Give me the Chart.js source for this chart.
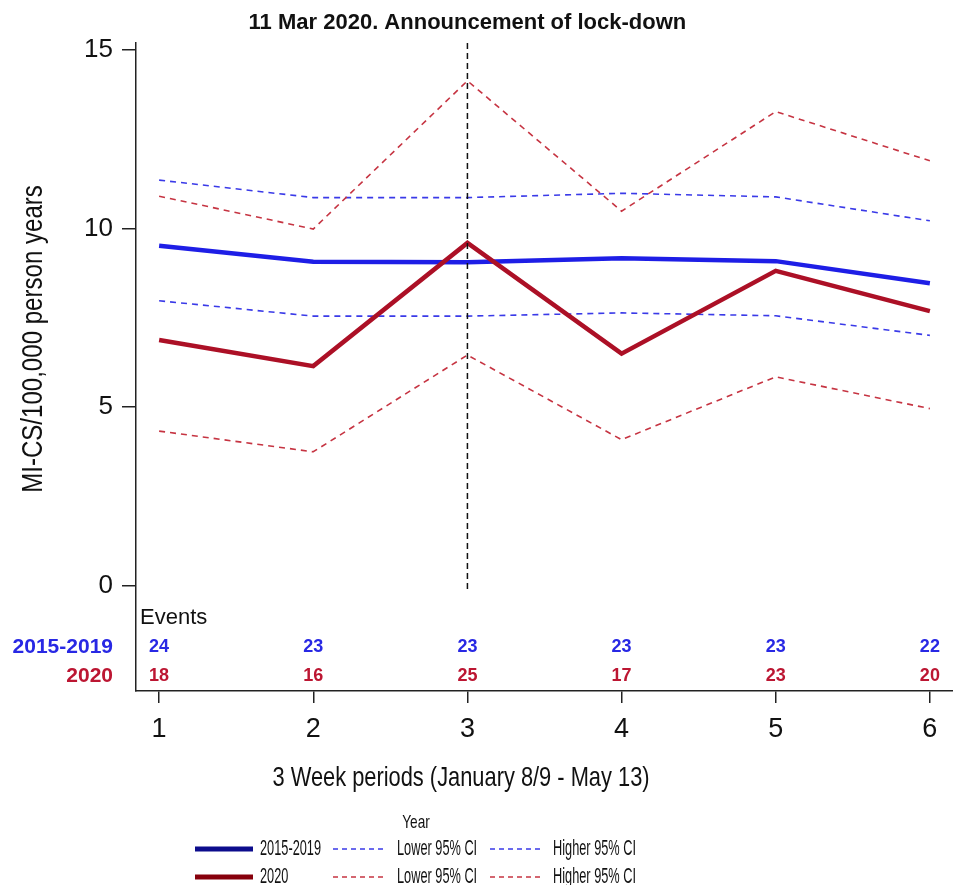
<!DOCTYPE html>
<html>
<head>
<meta charset="utf-8">
<script src="https://cdn.jsdelivr.net/npm/chart.js@4.4.0/dist/chart.umd.min.js"></script>
<style>
  html, body { margin: 0; padding: 0; background: #fff; }
  canvas { display: block; }
</style>
</head>
<body>
<canvas id="line-chart" width="953" height="885"></canvas>
<script>
// 3 week periods, Jan 8/9 - May 13
const periods = [1, 2, 3, 4, 5, 6];
const rateBase = [9.52, 9.07, 9.06, 9.17, 9.09, 8.47];
const lowerBase = [7.98, 7.55, 7.55, 7.64, 7.56, 7.01];
const upperBase = [11.36, 10.87, 10.87, 10.99, 10.89, 10.22];
const rate2020 = [6.88, 6.15, 9.60, 6.50, 8.82, 7.69];
const lower2020 = [4.33, 3.75, 6.46, 4.09, 5.85, 4.96];
const upper2020 = [10.91, 9.99, 14.14, 10.49, 13.28, 11.90];
const eventsBase = [24, 23, 23, 23, 23, 22];
const events2020 = [18, 16, 25, 17, 23, 20];
const yTicks = [0, 5, 10, 15];
const lockdownPeriod = 3;

const FONT = 'Arial, "Liberation Sans", sans-serif';
const blue = 'rgb(30,30,230)';
const blueDash = 'rgb(58,58,232)';
const red = 'rgb(172,16,38)';
const redDash = 'rgb(198,52,66)';
const legendBlue = 'rgb(12,12,140)';
const legendRed = 'rgb(135,0,12)';

const toPoints = arr => periods.map((p, i) => ({x: p, y: arr[i]}));

// draw text squeezed horizontally (the original uses a narrow font)
function narrowText(ctx, text, x, y, sx, align) {
    ctx.save();
    ctx.translate(x, y);
    ctx.scale(sx, 1);
    ctx.textAlign = align;
    ctx.fillText(text, 0, 0);
    ctx.restore();
}

const extras = {
    id: 'extras',
    afterDatasetsDraw(chart) {
        const ctx = chart.ctx;
        const xs = chart.scales.x;
        const ys = chart.scales.y;
        const area = chart.chartArea;
        const lx = xs.getPixelForValue(lockdownPeriod);

        // lock-down line
        ctx.save();
        ctx.strokeStyle = '#111';
        ctx.lineWidth = 1.5;
        ctx.setLineDash([6, 4]);
        ctx.beginPath();
        ctx.moveTo(lx, area.top);
        ctx.lineTo(lx, ys.getPixelForValue(-0.2));
        ctx.stroke();
        ctx.restore();

        ctx.save();
        ctx.textBaseline = 'middle';
        ctx.fillStyle = '#111';
        ctx.font = 'bold 22px ' + FONT;
        ctx.textAlign = 'center';
        ctx.fillText('11 Mar 2020. Announcement of lock-down', lx, 23);

        // events table
        ctx.font = '22px ' + FONT;
        ctx.textAlign = 'left';
        ctx.fillText('Events', area.left + 4, area.bottom - 73);
        ctx.font = 'bold 21px ' + FONT;
        ctx.textAlign = 'right';
        ctx.fillStyle = 'rgb(40,40,228)';
        ctx.fillText('2015-2019', 113, area.bottom - 44);
        ctx.fillStyle = 'rgb(188,22,50)';
        ctx.fillText('2020', 113, area.bottom - 15);
        ctx.font = 'bold 18px ' + FONT;
        ctx.textAlign = 'center';
        periods.forEach((p, i) => {
            const px = xs.getPixelForValue(p);
            ctx.fillStyle = 'rgb(40,40,228)';
            ctx.fillText(String(eventsBase[i]), px, area.bottom - 44);
            ctx.fillStyle = 'rgb(188,22,50)';
            ctx.fillText(String(events2020[i]), px, area.bottom - 15);
        });

        // axis titles
        ctx.fillStyle = '#111';
        ctx.font = '28px ' + FONT;
        narrowText(ctx, '3 Week periods (January 8/9 - May 13)', 461, 778, 0.78, 'center');
        ctx.save();
        ctx.translate(34, 339);
        ctx.rotate(-Math.PI / 2);
        ctx.font = '29px ' + FONT;
        narrowText(ctx, 'MI-CS/100,000 person years', 0, 0, 0.83, 'center');
        ctx.restore();

        // legend
        ctx.font = '19px ' + FONT;
        narrowText(ctx, 'Year', 416, 823, 0.72, 'center');
        const rows = [
            {label: '2015-2019', solid: legendBlue, dash: blueDash, y: 849},
            {label: '2020', solid: legendRed, dash: redDash, y: 877}
        ];
        ctx.font = '22px ' + FONT;
        rows.forEach(r => {
            ctx.save();
            ctx.strokeStyle = r.solid;
            ctx.lineWidth = 5;
            ctx.beginPath();
            ctx.moveTo(195, r.y);
            ctx.lineTo(253, r.y);
            ctx.stroke();
            ctx.strokeStyle = r.dash;
            ctx.lineWidth = 1.6;
            ctx.setLineDash([5, 4]);
            [333, 490].forEach(x0 => {
                ctx.beginPath();
                ctx.moveTo(x0, r.y);
                ctx.lineTo(x0 + 52, r.y);
                ctx.stroke();
            });
            ctx.restore();
            ctx.fillStyle = '#111';
            narrowText(ctx, r.label, 260, r.y, 0.58, 'left');
            narrowText(ctx, 'Lower 95% CI', 397, r.y, 0.58, 'left');
            narrowText(ctx, 'Higher 95% CI', 553, r.y, 0.58, 'left');
        });
        ctx.restore();
    }
};

const meanLine = (data, color) => ({
    data: toPoints(data), borderColor: color, borderWidth: 4.5,
    pointRadius: 0, fill: false, tension: 0
});
const ciLine = (data, color) => ({
    data: toPoints(data), borderColor: color, borderWidth: 1.6,
    borderDash: [6, 5], pointRadius: 0, fill: false, tension: 0
});

new Chart('line-chart', {
    type: 'line',
    data: {
        datasets: [
            meanLine(rate2020, red),
            meanLine(rateBase, blue),
            ciLine(lower2020, redDash),
            ciLine(upper2020, redDash),
            ciLine(lowerBase, blueDash),
            ciLine(upperBase, blueDash)
        ]
    },
    options: {
        responsive: false,
        animation: false,
        layout: {padding: {top: 43, left: 0, right: 0, bottom: 0}},
        plugins: {legend: {display: false}, title: {display: false}, tooltip: {enabled: false}},
        scales: {
            x: {
                type: 'linear', min: 0.85, max: 6.15,
                afterBuildTicks: s => { s.ticks = periods.map(v => ({value: v})); },
                afterFit: s => { s.height = 194; },
                grid: {drawOnChartArea: false, drawTicks: true, tickLength: 12, color: '#222', lineWidth: 1.5},
                border: {display: true, color: '#222', width: 1.5},
                ticks: {color: '#111', font: {family: FONT, size: 27}, padding: 10, maxRotation: 0}
            },
            y: {
                type: 'linear', min: -2.95, max: 15.2,
                afterBuildTicks: s => { s.ticks = yTicks.map(v => ({value: v})); },
                afterFit: s => { s.width = 136; },
                grid: {drawOnChartArea: false, drawTicks: true, tickLength: 14, color: '#222', lineWidth: 1.5},
                border: {display: true, color: '#222', width: 1.5},
                ticks: {color: '#111', font: {family: FONT, size: 26}, padding: 9}
            }
        }
    },
    plugins: [extras]
});
</script>
</body>
</html>
